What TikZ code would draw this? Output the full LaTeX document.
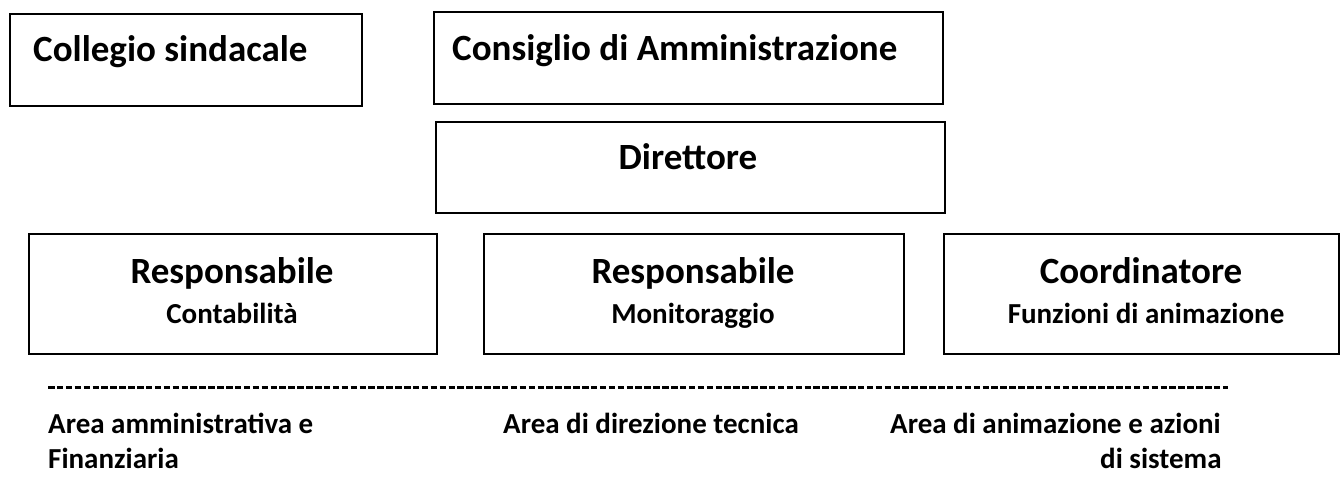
\documentclass[tikz,border=0pt]{standalone}
\usepackage{fontspec}
\setmainfont{Carlito}
\begin{document}
\begin{tikzpicture}[x=1pt,y=-1pt,
  box/.style={draw=black, line width=1.6pt, rectangle, inner sep=0pt, anchor=north west},
  title/.style={font=\bfseries\fontsize{37}{44}\selectfont, inner sep=0pt},
  sub/.style={font=\bfseries\fontsize{29}{35}\selectfont, inner sep=0pt},
  area/.style={font=\bfseries\fontsize{29}{35}\selectfont, inner sep=0pt, anchor=base west},
  sep/.style={line width=3pt, dash pattern=on 6.5pt off 2.4pt}]
\useasboundingbox (0,0) rectangle (1340,495);
% boxes
\node[box, minimum width=352pt, minimum height=92pt] (coll) at (9,13) {};
\node[box, minimum width=509pt, minimum height=92pt] (cda) at (433,11) {};
\node[box, minimum width=509pt, minimum height=91pt] (dir) at (435,121) {};
\node[box, minimum width=408pt, minimum height=120pt] (cont) at (28,233) {};
\node[box, minimum width=420pt, minimum height=120pt] (mon) at (483,233) {};
\node[box, minimum width=395pt, minimum height=120pt] (coord) at (943,233) {};
% box texts
\node[title, anchor=base west] (tcoll) at (33,62) {Collegio sindacale};
\node[title, anchor=base west] (tcda) at (452,60) {Consiglio di Amministrazione};
\node[title, anchor=base] (tdir) at (688,169) {Direttore};
\node[title, anchor=base] (tcont1) at (232,283) {Responsabile};
\node[sub, anchor=base] (tcont2) at (232,323) {Contabilità};
\node[title, anchor=base] (tmon1) at (693,283) {Responsabile};
\node[sub, anchor=base] (tmon2) at (693,323) {Monitoraggio};
\node[title, anchor=base] (tcoord1) at (1141,283) {Coordinatore};
\node[sub, anchor=base] (tcoord2) at (1146,323) {Funzioni di animazione};
% separator
\coordinate (sepL) at (48,387);
\coordinate (sepR) at (1228,387);
\draw[sep] (sepL) -- (sepR);
% area labels
\node[area] (a1) at (48,433) {Area amministrativa e};
\node[area] (a1b) at (48,468) {Finanziaria};
\node[area] (a2) at (503,433) {Area di direzione tecnica};
\node[area] (a3) at (890,433) {Area di animazione e azioni};
\node[area] (a3b) at (1100,468) {di sistema};
\end{tikzpicture}
\end{document}
